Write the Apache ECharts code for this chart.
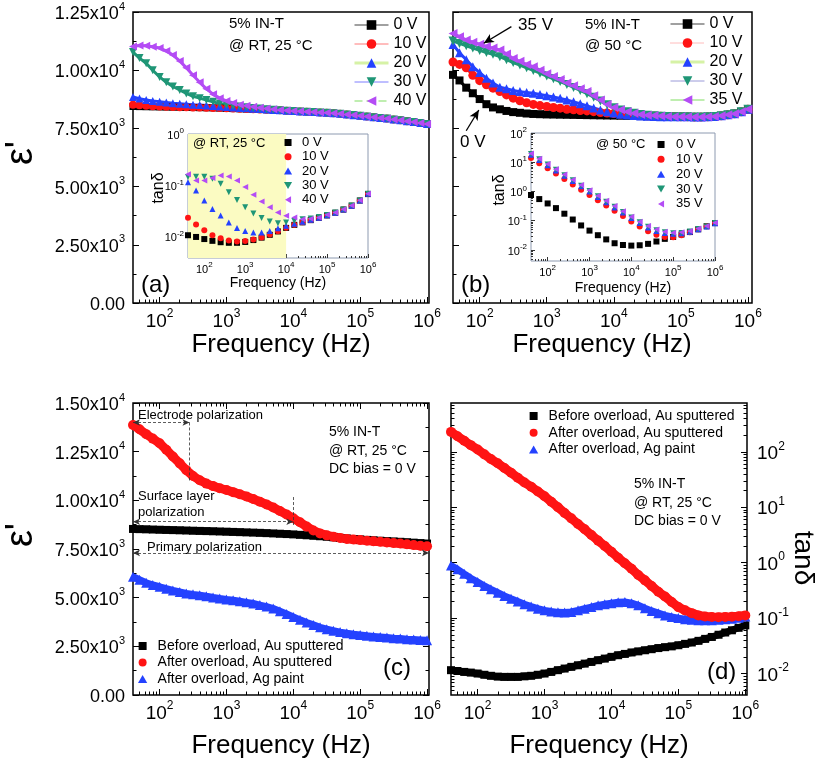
<!DOCTYPE html>
<html><head><meta charset="utf-8">
<script src="https://cdn.jsdelivr.net/npm/echarts@6/dist/echarts.min.js"></script>
<style>html,body{margin:0;padding:0;background:#fff}#c{width:817px;height:765px}</style>
</head><body><div id="c"></div>
<script>
const FONT = '"Liberation Sans", Arial, sans-serif';

// ---------- data ----------
const freq = [40,50,63,79,100,126,158,200,251,316,398,501,631,794,1000,1259,1585,1995,2512,3162,3981,5012,6310,7943,10000,12589,15849,19953,25119,31623,39811,50119,63096,79433,100000,125893,158489,199526,251189,316228,398107,501187,630957,794328,1000000];
const freqInset = [40,63,100,158,251,398,631,1000,1585,2512,3981,6310,10000,15849,25119,39811,63096,100000,158489,251189,398107,630957,1000000];

// (a) eps' at RT
const a0V  = [8440,8435,8430,8425,8420,8415,8410,8405,8400,8395,8390,8385,8380,8370,8360,8350,8340,8330,8320,8310,8300,8290,8275,8260,8245,8230,8215,8200,8185,8170,8150,8130,8100,8070,8040,8010,7980,7950,7920,7880,7850,7810,7770,7730,7690];
const a10V = [8520,8490,8470,8455,8440,8430,8420,8412,8405,8400,8393,8387,8381,8371,8361,8351,8341,8331,8321,8311,8301,8291,8276,8261,8246,8231,8216,8201,8186,8171,8151,8131,8101,8071,8041,8011,7981,7951,7921,7881,7851,7811,7771,7731,7691];
const a20V = [8850,8780,8720,8680,8650,8610,8580,8560,8540,8520,8500,8480,8460,8440,8420,8400,8380,8362,8345,8328,8312,8295,8278,8262,8246,8230,8215,8200,8185,8170,8150,8130,8100,8070,8040,8010,7980,7950,7920,7880,7850,7810,7770,7730,7690];
const a30V = [10780,10520,10300,10000,9710,9480,9300,9150,9000,8880,8800,8720,8640,8570,8510,8470,8440,8410,8380,8350,8320,8300,8280,8262,8246,8231,8216,8201,8186,8171,8151,8131,8101,8071,8041,8011,7981,7951,7921,7881,7851,7811,7771,7731,7691];
const a40V = [11020,11060,11050,11010,10950,10830,10650,10400,10100,9780,9480,9200,8970,8800,8680,8590,8520,8470,8430,8390,8350,8320,8290,8268,8250,8233,8217,8202,8187,8172,8152,8132,8102,8072,8042,8012,7982,7952,7922,7882,7852,7812,7772,7732,7692];

// (b) eps' at 50 C
const b0V  = [9800,9560,9250,9010,8760,8540,8400,8320,8250,8200,8170,8140,8120,8110,8100,8095,8090,8085,8080,8075,8070,8065,8060,8055,8050,8045,8040,8035,8030,8025,8020,8015,8010,8005,8000,7995,7990,7990,7995,8010,8040,8080,8130,8210,8320];
const b10V = [10350,10250,10100,9780,9550,9370,9230,9080,8940,8800,8690,8600,8530,8480,8440,8400,8370,8320,8300,8270,8250,8220,8180,8160,8140,8120,8100,8080,8060,8045,8035,8025,8015,8008,8002,7996,7991,7991,7996,8011,8041,8081,8131,8211,8321];
const b20V = [11100,10750,10450,10150,9900,9650,9450,9270,9200,9130,9080,9040,9010,8960,8900,8850,8790,8720,8640,8560,8470,8380,8290,8220,8160,8110,8080,8050,8030,8020,8010,8005,8003,8002,8001,7996,7991,7991,7996,8011,8041,8081,8131,8211,8321];
const b30V = [11250,11150,11050,10950,10850,10760,10680,10580,10450,10330,10220,10100,9990,9870,9750,9630,9510,9390,9260,9130,8990,8840,8680,8520,8390,8290,8210,8150,8100,8065,8045,8025,8012,8004,8000,7996,7991,7991,7996,8011,8041,8081,8131,8211,8322];
const b35V = [11580,11440,11300,11200,11120,11020,10950,10870,10700,10500,10380,10250,10150,10000,9850,9730,9600,9450,9330,9200,9080,8900,8720,8530,8400,8300,8220,8150,8100,8070,8050,8030,8015,8005,8000,7997,7992,7992,7997,8012,8042,8082,8132,8212,8323];

// inset (a) tan delta at RT
const ia0V  = [0.0108,0.0100,0.0091,0.0084,0.0079,0.0077,0.0077,0.0080,0.0087,0.0097,0.0110,0.0128,0.0150,0.0172,0.0192,0.0212,0.0235,0.0262,0.0295,0.0340,0.0405,0.0510,0.068];
const ia10V = [0.0235,0.0175,0.0135,0.0108,0.0094,0.0085,0.0082,0.0083,0.0089,0.0098,0.0111,0.0129,0.0151,0.0173,0.0193,0.0213,0.0236,0.0263,0.0296,0.0341,0.0406,0.0511,0.069];
const ia20V = [0.116,0.080,0.051,0.035,0.026,0.019,0.015,0.013,0.0122,0.0122,0.013,0.0148,0.0165,0.018,0.0198,0.0215,0.0237,0.0263,0.0296,0.0341,0.0406,0.0512,0.069];
const ia30V = [0.146,0.148,0.148,0.135,0.108,0.074,0.052,0.0376,0.0287,0.0233,0.020,0.0185,0.019,0.0205,0.022,0.0228,0.0245,0.0268,0.0298,0.0342,0.0407,0.0513,0.069];
const ia40V = [0.165,0.125,0.125,0.14,0.157,0.15,0.125,0.093,0.066,0.049,0.0376,0.030,0.0257,0.024,0.022,0.0225,0.024,0.027,0.030,0.0345,0.041,0.0515,0.069];

// inset (b) tan delta at 50 C
const ib0V  = [0.76,0.55,0.39,0.27,0.174,0.110,0.069,0.046,0.032,0.023,0.017,0.0148,0.0141,0.0145,0.0162,0.0195,0.024,0.028,0.034,0.041,0.051,0.065,0.083];
const ib10V = [14.1,9.3,6.2,4.1,2.7,1.74,1.15,0.76,0.50,0.33,0.22,0.145,0.095,0.063,0.044,0.033,0.028,0.0275,0.032,0.040,0.051,0.065,0.083];
const ib20V = [18,12.0,7.9,5.2,3.45,2.28,1.5,0.99,0.65,0.43,0.285,0.19,0.124,0.084,0.059,0.045,0.038,0.036,0.037,0.042,0.051,0.063,0.082];
const ib30V = [19,12.6,8.3,5.5,3.6,2.4,1.58,1.04,0.69,0.45,0.30,0.20,0.13,0.088,0.062,0.047,0.040,0.037,0.038,0.043,0.052,0.064,0.083];
const ib35V = [20,13.2,8.7,5.75,3.8,2.5,1.66,1.10,0.72,0.48,0.32,0.21,0.138,0.093,0.066,0.050,0.042,0.039,0.040,0.045,0.054,0.066,0.085];

// (c) eps' before / after overload
const cBefore = [8530,8520,8510,8500,8490,8480,8470,8460,8450,8440,8430,8420,8410,8400,8390,8378,8366,8354,8342,8330,8315,8300,8284,8267,8250,8228,8205,8180,8155,8130,8100,8070,8040,8015,7990,7968,7946,7925,7906,7890,7870,7848,7826,7803,7780];
const cAfterAu = [13870,13650,13400,13170,12930,12600,12250,11900,11550,11250,11030,10860,10730,10620,10530,10420,10310,10200,10070,9930,9790,9630,9450,9270,9080,8870,8650,8450,8300,8200,8130,8070,8020,7985,7960,7930,7900,7870,7840,7810,7780,7740,7710,7670,7640];
const cAfterAg = [6080,5920,5770,5650,5560,5460,5370,5290,5220,5170,5130,5070,5010,4960,4910,4870,4820,4760,4700,4620,4540,4440,4300,4160,4010,3860,3720,3600,3480,3380,3300,3230,3170,3120,3080,3040,3010,2980,2950,2920,2900,2870,2850,2830,2810];

// (d) tan delta before / after overload
const dBefore = [0.0115,0.0111,0.0107,0.0104,0.0100,0.0095,0.0091,0.0088,0.0087,0.0087,0.0087,0.0089,0.0091,0.0095,0.0100,0.0107,0.0115,0.0123,0.0132,0.0141,0.0151,0.0162,0.0174,0.0186,0.0200,0.0214,0.0226,0.0240,0.0251,0.0263,0.0275,0.0288,0.0299,0.0309,0.0324,0.0343,0.0363,0.0389,0.0422,0.0457,0.0501,0.0550,0.0603,0.0668,0.0741];
const dAfterAu = [229,191,158,132,110,90,74,62,51,42,34,28,23.4,19.3,15.8,12.6,10.0,7.9,6.3,5.0,4.0,3.16,2.5,2.0,1.57,1.23,0.98,0.78,0.60,0.48,0.38,0.30,0.245,0.195,0.158,0.138,0.123,0.112,0.107,0.105,0.1035,0.105,0.106,0.108,0.112];
const dAfterAg = [0.89,0.76,0.63,0.525,0.447,0.38,0.331,0.288,0.251,0.224,0.200,0.178,0.162,0.148,0.138,0.132,0.127,0.126,0.129,0.138,0.148,0.158,0.170,0.178,0.186,0.193,0.195,0.186,0.170,0.151,0.135,0.123,0.112,0.105,0.100,0.0955,0.0933,0.0912,0.0912,0.0912,0.0933,0.0955,0.0977,0.102,0.107];

const voltsA = ['0 V','10 V','20 V','30 V','40 V'];
const voltsB = ['0 V','10 V','20 V','30 V','35 V'];
const namesCD = ['Before overload, Au sputtered','After overload, Au sputtered','After overload, Ag paint'];

// ---------- styling helpers ----------
const SQ='path://M0,0H10V10H0Z', UP='path://M5,0L10,8.66L0,8.66Z', DN='path://M0,0L10,0L5,8.66Z', LT='path://M8.66,0L8.66,10L0,5Z', CI='circle';
const COL = {k:'#000000', r:'#ff1414', b:'#2442ff', g:'#1f9676', p:'#b44cf5'};
const SYMS = [SQ, CI, UP, DN, LT];
const COLS = [COL.k, COL.r, COL.b, COL.g, COL.p];

function majorTicks(min,max){const o=[];for(let e=-4;e<=7;e++){const v=+Math.pow(10,e).toPrecision(3);if(v>=min*0.999&&v<=max*1.001)o.push(v);}return o;}
function minorTicks(min,max){const o=[];for(let e=-4;e<=6;e++){const d=Math.pow(10,e);for(let k=2;k<=9;k++){const v=+(k*d).toPrecision(3);if(v>min&&v<max)o.push(v);}}return o;}
function logFmt(v){const l=Math.log10(v);const e=Math.round(l);if(Math.abs(l-e)>0.01)return '';return '{b|10}{s|'+e+'}';}
function sciFmt(v){if(v===0)return '{b|0.00}';const e=Math.floor(Math.log10(v)+1e-9);return '{b|'+(v/Math.pow(10,e)).toFixed(2)+'x10}{s|'+e+'}';}
function rich(fs,sfs,pad){return {b:{fontSize:fs,fontFamily:FONT,color:'#000',padding:[pad,0,0,0]},s:{fontSize:sfs,fontFamily:FONT,color:'#000',verticalAlign:'top'}};}

const xAxis=[], yAxis=[];
function addAxis(arr,o){arr.push(Object.assign({axisLine:{show:false,onZero:false},splitLine:{show:false},minorSplitLine:{show:false},axisPointer:{show:false}},o));return arr.length-1;}
function logPair(arr,g,min,max,pos,lab,majLen,minLen,tickCol){
  const i=addAxis(arr,{type:'log',logBase:10,gridIndex:g,min,max,position:pos,
    axisTick:{show:true,inside:true,length:majLen,customValues:majorTicks(min,max),lineStyle:{color:tickCol,width:1}},
    axisLabel:lab?Object.assign({show:true,customValues:majorTicks(min,max),formatter:logFmt},lab):{show:false}});
  addAxis(arr,{type:'log',logBase:10,gridIndex:g,min,max,position:pos,
    axisTick:{show:true,inside:true,length:minLen,customValues:minorTicks(min,max),lineStyle:{color:tickCol,width:1}},
    axisLabel:{show:false}});
  return i;
}
function linY(g,max,pos,lab){
  return addAxis(yAxis,{type:'value',gridIndex:g,min:0,max,interval:2500,position:pos,
    axisTick:{show:true,inside:true,length:6,lineStyle:{color:'#000'}},
    minorTick:{show:true,splitNumber:2,length:3.5,lineStyle:{color:'#000'}},
    axisLabel:lab?{show:true,formatter:sciFmt,margin:8,rich:rich(18,11,4)}:{show:false}});
}
const mainXLab={margin:5,rich:rich(19,12,4)};
const insetXLab={margin:3,rich:rich(11,8,3)};
const insetYLab={margin:4,rich:rich(11,8,3)};

// grid 0:a 1:b 2:c 3:d 4:inset a 5:inset b
const xa=logPair(xAxis,0,40,1.07e6,'bottom',mainXLab,6,3.5,'#000');
const ya=linY(0,12500,'left',true);
const xb=logPair(xAxis,1,40,1.15e6,'bottom',mainXLab,6,3.5,'#000');
const yb=linY(1,12500,'left',false);
const xc=logPair(xAxis,2,40,1.07e6,'bottom',mainXLab,6,3.5,'#000');
logPair(xAxis,2,40,1.07e6,'top',null,6,3.5,'#000');
const yc=linY(2,15000,'left',true);
linY(2,15000,'right',false);
const xd=logPair(xAxis,3,40,1.06e6,'bottom',mainXLab,6,3.5,'#000');
const yd=logPair(yAxis,3,0.0041,760,'right',{margin:10,rich:rich(19,12,4)},6,3.5,'#000');
logPair(yAxis,3,0.0041,760,'left',null,6,3.5,'#000');
const xia=logPair(xAxis,4,40,1e6,'bottom',insetXLab,4,2,'#333');
const yia=logPair(yAxis,4,0.0039,1,'left',insetYLab,4,2,'#333');
const xib=logPair(xAxis,5,40,1e6,'bottom',insetXLab,4,2,'#333');
const yib=logPair(yAxis,5,0.0042,100,'left',insetYLab,4,2,'#333');

function S(name,xs,ys,xi,yi,sym,color,size,lw){
  return {type:'line',name,xAxisIndex:xi,yAxisIndex:yi,data:xs.map((x,i)=>[x,ys[i]]),
    symbol:sym,symbolSize:size,showSymbol:true,showAllSymbol:true,itemStyle:{color,opacity:1},
    lineStyle:{width:lw||0,color},emphasis:{disabled:true},silent:true,animation:false};
}

const series=[];
[a0V,a10V,a20V,a30V,a40V].forEach((d,i)=>series.push(S(voltsA[i],freq,d,xa,ya,SYMS[i],COLS[i],i===0?7:8,3)));
[b0V,b10V,b20V,b30V,b35V].forEach((d,i)=>{
  const s=S(voltsB[i],freq,d,xb,yb,SYMS[i],COLS[i],i===0?8:9,3);
  if(i===4){s.markLine={silent:true,animation:false,symbol:['none','arrow'],symbolSize:[7,10],label:{show:false},
    lineStyle:{color:'#000',type:'solid',width:1.3},
    data:[[{coord:[297,11870]},{coord:[115,11160]}],[{coord:[63,7400]},{coord:[97,8290]}]]};}
  series.push(s);
});
[ia0V,ia10V,ia20V,ia30V,ia40V].forEach((d,i)=>{
  const s=S(voltsA[i],freqInset,d,xia,yia,SYMS[i],COLS[i],6,0);
  if(i===0){s.markArea={silent:true,animation:false,itemStyle:{color:'#fbfbc2'},data:[[{xAxis:40},{xAxis:10000}]]};}
  series.push(s);
});
[ib0V,ib10V,ib20V,ib30V,ib35V].forEach((d,i)=>series.push(S(voltsB[i],freqInset,d,xib,yib,SYMS[i],COLS[i],6,0)));
const cS=[S(namesCD[0],freq,cBefore,xc,yc,SQ,COL.k,8,7),
          S(namesCD[1],freq,cAfterAu,xc,yc,CI,COL.r,10,9),
          S(namesCD[2],freq,cAfterAg,xc,yc,UP,COL.b,10,7)];
cS[1].markLine={silent:true,animation:false,symbol:['arrow','arrow'],symbolSize:[5,7],label:{show:false},
  lineStyle:{color:'#333',type:[3,2],width:0.8},
  data:[[{coord:[40,14000]},{coord:[280,14000]}],
        [{coord:[280,14000],symbol:'none'},{coord:[280,11000],symbol:'none'}],
        [{coord:[40,8900]},{coord:[10000,8900]}],
        [{coord:[10000,10170],symbol:'none'},{coord:[10000,8630],symbol:'none'}],
        [{coord:[40,7300]},{coord:[1.07e6,7300]}]]};
cS.forEach(s=>series.push(s));
series.push(S(namesCD[0],freq,dBefore,xd,yd,SQ,COL.k,8,7));
series.push(S(namesCD[2],freq,dAfterAg,xd,yd,UP,COL.b,10,7));
series.push(S(namesCD[1],freq,dAfterAu,xd,yd,CI,COL.r,10,9));

// ---------- legends ----------
const lineLeg = (names, styles, left, top) => ({orient:'vertical',left,top,padding:0,itemWidth:34,itemHeight:12,itemGap:3,selectedMode:false,
  textStyle:{fontSize:16,lineHeight:16,fontFamily:FONT,color:'#000'},
  data:names.map((n,i)=>({name:n,lineStyle:Object.assign({opacity:1},styles[i])}))});
const symLeg = (names, icons, left, top, fs, iw, ih, gap) => ({orient:'vertical',left,top,padding:0,itemWidth:iw,itemHeight:ih,itemGap:gap,selectedMode:false,
  textStyle:{fontSize:fs,lineHeight:fs,fontFamily:FONT,color:'#000'},
  data:names.map((n,i)=>({name:n,icon:icons[i]}))});
const legend=[
  lineLeg(voltsA,[{color:'#808080',width:1.5,type:'solid'},{color:'#ff7a7a',width:1,type:'solid'},{color:'#d6f2a6',width:3,type:'solid'},{color:'#7f7fff',width:1,type:'solid'},{color:'#bfeeb0',width:2,type:'dashed'}],353,17),
  lineLeg(voltsB,[{color:'#808080',width:1.5,type:'solid'},{color:'#ff7a7a',width:1,type:'dotted'},{color:'#d6f2a6',width:3,type:'solid'},{color:'#9a9ad8',width:1,type:'solid'},{color:'#bfeeb0',width:2,type:'solid'}],669,16),
  symLeg(voltsA,SYMS,284,136,13,18,7,1.3),
  symLeg(voltsB,SYMS,657,138,13,20,7,1.85),
  symLeg(namesCD,[SQ,CI,UP],138,639,14,20,8,2.5),
  symLeg(namesCD,[SQ,CI,UP],529,409,14,20,8,2.7)
];

// ---------- texts ----------
function T(x,y,text,fs,o){return Object.assign({type:'text',x,y,silent:true,z:50,style:{text,fontSize:fs,fontFamily:FONT,fill:'#000',align:'left',verticalAlign:'middle'}},o||{});}
function TC(x,y,text,fs,rot){const t=T(x,y,text,fs,{rotation:rot||0});t.style.align='center';return t;}
const graphic=[
  T(229,24,'5% IN-T',15), T(229,46,'@ RT, 25 °C',15),
  T(585,25,'5% IN-T',15), T(585,46,'@ 50 °C',15),
  T(518,25,'35 V',17), T(460,142,'0 V',17),
  T(141,285,'(a)',24), T(461,285,'(b)',24), T(383,668,'(c)',24), T(707,672,'(d)',24),
  T(329,432,'5% IN-T',14), T(329,451,'@ RT, 25 °C',14), T(329,469,'DC bias = 0 V',14),
  T(634,484,'5% IN-T',14), T(634,503,'@ RT, 25 °C',14), T(634,521,'DC bias = 0 V',14),
  T(193,143,'@ RT, 25 °C',13), T(596,144,'@ 50 °C',13),
  T(138,415,'Electrode polarization',13), T(138,496,'Surface layer',13), T(138,512,'polarization',13), T(147,547,'Primary polarization',13),
  TC(281,345,'Frequency (Hz)',26), TC(602,345,'Frequency (Hz)',26), TC(281,746,'Frequency (Hz)',26), TC(599,746,'Frequency (Hz)',26),
  TC(278,283,'Frequency (Hz)',14), TC(623,288,'Frequency (Hz)',14),
  TC(159,188,'tanδ',16,Math.PI/2), TC(500,190,'tanδ',16,Math.PI/2),
  TC(22,153,"ε'",38,Math.PI/2), TC(22,535,"ε'",38,Math.PI/2),
  TC(803,558,'tanδ',28,-Math.PI/2)
];

const gMain={show:true,borderColor:'#000',borderWidth:1.5,backgroundColor:'#fff',containLabel:false,outerBoundsMode:'none'};
const gIns={show:true,borderColor:'#8d9ab0',borderWidth:1,backgroundColor:'rgba(0,0,0,0)',containLabel:false,outerBoundsMode:'none'};
const option={
  animation:false,
  textStyle:{fontFamily:FONT},
  grid:[
    Object.assign({left:133,top:12,width:296,height:291},gMain),
    Object.assign({left:453,top:12,width:299,height:291},gMain),
    Object.assign({left:133,top:403,width:296,height:292},gMain),
    Object.assign({left:451,top:403,width:296,height:292},gMain),
    Object.assign({left:188,top:134,width:180,height:124},gIns),
    Object.assign({left:531,top:133,width:184,height:128},gIns)
  ],
  xAxis, yAxis, legend, series, graphic
};
const chart=echarts.init(document.getElementById('c'),null,{renderer:'canvas'});
chart.setOption(option);
</script></body></html>
